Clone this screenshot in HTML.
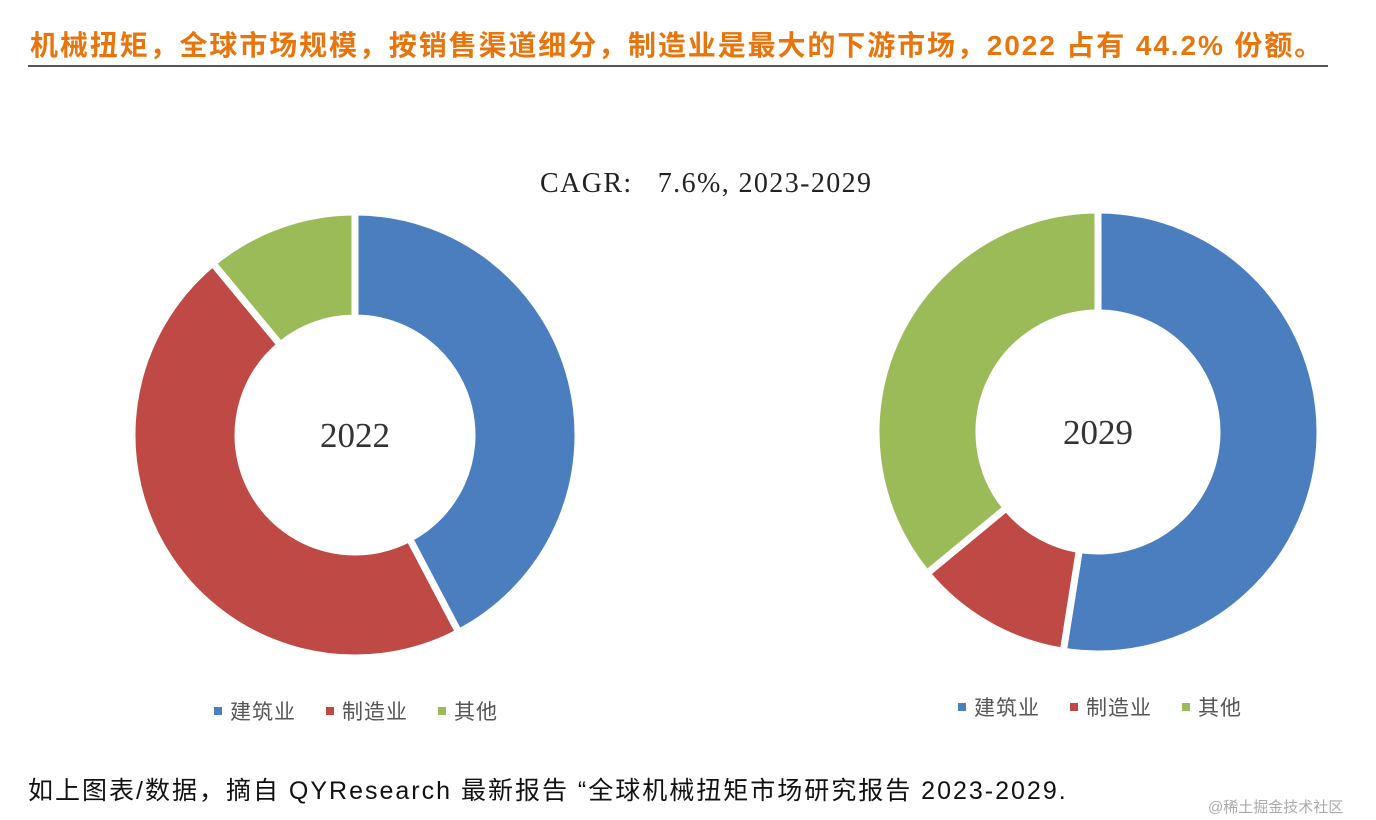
<!DOCTYPE html>
<html><head><meta charset="utf-8"><style>
body{margin:0;width:1376px;height:820px;background:#fff;overflow:hidden;position:relative;font-family:"Liberation Sans","Noto Sans CJK SC",sans-serif}
.abs{position:absolute;white-space:nowrap}
</style></head><body>
<div class="abs" style="left:30px;top:24px;font-size:28px;letter-spacing:1.9px;font-weight:bold;color:#e8740c">机械扭矩，全球市场规模，按销售渠道细分，制造业是最大的下游市场，2022 占有 44.2% 份额。</div>
<div class="abs" style="left:28px;top:65px;width:1300px;height:2px;background:#555"></div>
<div class="abs" style="left:540px;top:168px;font-size:28px;letter-spacing:1.4px;font-family:'Liberation Serif',serif;color:#222">CAGR:&nbsp;&nbsp;&nbsp;7.6%, 2023-2029</div>
<svg id="chart" class="abs" style="left:0;top:0" width="1376" height="820"></svg>
<div class="abs" style="left:28px;top:771px;font-size:25px;letter-spacing:2px;color:#111">如上图表/数据，摘自 QYResearch 最新报告 “全球机械扭矩市场研究报告 2023-2029.</div>
<div class="abs" style="left:1208px;top:796px;font-size:15px;color:#aaa">@稀土掘金技术社区</div>
<script>
const categories=["建筑业","制造业","其他"];
const colors=["#4a7ebf","#bf4a45","#9bbb59"];
const values2022=[42.3,46.7,11.0];
const values2029=[52.5,11.5,36.0];
const years=["2022","2029"];
const svg=document.getElementById('chart');
const NS='http://www.w3.org/2000/svg';
function donut(vals,cx,cy,R,r,label,ly,lx){
  const tot=vals.reduce((a,b)=>a+b,0);let a0=0;
  vals.forEach((v,i)=>{
    const a1=a0+v/tot*2*Math.PI;
    const p=(ang,rad)=>[cx+rad*Math.sin(ang),cy-rad*Math.cos(ang)];
    const [x1,y1]=p(a0,R),[x2,y2]=p(a1,R),[x3,y3]=p(a1,r),[x4,y4]=p(a0,r);
    const lg=(a1-a0)>Math.PI?1:0;
    const path=document.createElementNS(NS,'path');
    path.setAttribute('d',`M${x1},${y1}A${R},${R} 0 ${lg} 1 ${x2},${y2}L${x3},${y3}A${r},${r} 0 ${lg} 0 ${x4},${y4}Z`);
    path.setAttribute('fill',colors[i]);path.setAttribute('stroke','#fff');path.setAttribute('stroke-width','7');
    
    
    svg.appendChild(path);a0=a1;
  });
  const t=document.createElementNS(NS,'text');
  t.setAttribute('x',cx);t.setAttribute('y',cy+12);t.setAttribute('text-anchor','middle');
  t.setAttribute('font-size','35');t.setAttribute('font-family','Liberation Serif,serif');t.setAttribute('fill','#333');
  t.textContent=label;
  
  
  svg.appendChild(t);
  categories.forEach((c,i)=>{
    const x=lx+i*112;
    const s=document.createElementNS(NS,'rect');
    s.setAttribute('x',x);s.setAttribute('y',ly-5);s.setAttribute('width',8);s.setAttribute('height',8);s.setAttribute('fill',colors[i]);
    
    
    svg.appendChild(s);
    const tx=document.createElementNS(NS,'text');
    tx.setAttribute('x',x+16);tx.setAttribute('y',ly+7);tx.setAttribute('font-size','21');tx.setAttribute('fill','#555');
    tx.setAttribute('letter-spacing','1');
    tx.setAttribute('font-family','Liberation Sans,Noto Sans CJK SC,sans-serif');
    tx.textContent=c;
    
    
    svg.appendChild(tx);
  });
}
donut(values2022,355,435,223,117,years[0],712,214);
donut(values2029,1098,432,222,119,years[1],708,958);
</script>
</body></html>
